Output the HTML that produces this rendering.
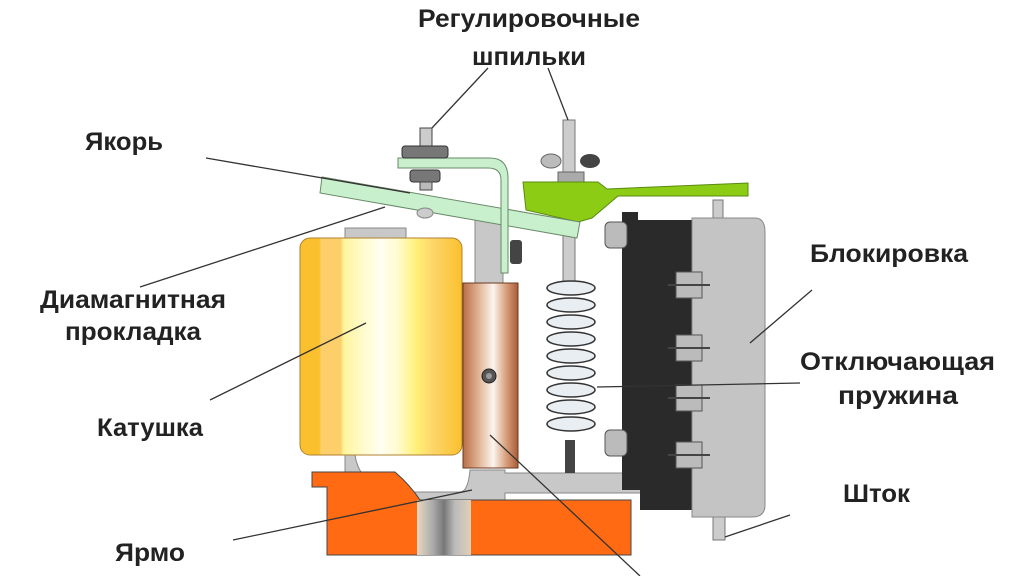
<!DOCTYPE html>
<html><head><meta charset="utf-8"><style>
html,body{margin:0;padding:0;background:#fff;width:1024px;height:576px;overflow:hidden}
svg{display:block}
text{font-family:"Liberation Sans",sans-serif;font-weight:bold;fill:#222;font-size:25px}
</style></head><body>
<svg width="1024" height="576" viewBox="0 0 1024 576">
<defs>
<linearGradient id="coil" x1="0" x2="1">
<stop offset="0" stop-color="#fbc02d"/><stop offset="0.12" stop-color="#fbc02d"/>
<stop offset="0.13" stop-color="#fdcf6a"/><stop offset="0.25" stop-color="#fdcf6a"/>
<stop offset="0.27" stop-color="#fff59d"/><stop offset="0.4" stop-color="#fffbd0"/>
<stop offset="0.5" stop-color="#fffef2"/><stop offset="0.6" stop-color="#fffbd0"/>
<stop offset="0.72" stop-color="#fff176"/><stop offset="0.82" stop-color="#fdd56a"/>
<stop offset="1" stop-color="#fbc02d"/></linearGradient>
<linearGradient id="cu" x1="0" x2="1">
<stop offset="0" stop-color="#b86e45"/><stop offset="0.3" stop-color="#e2b89a"/>
<stop offset="0.55" stop-color="#fbf4ee"/><stop offset="0.8" stop-color="#d59a75"/>
<stop offset="1" stop-color="#a85d38"/></linearGradient>
<linearGradient id="slab" x1="0" x2="1">
<stop offset="0" stop-color="#e8d8c0"/><stop offset="0.3" stop-color="#aaa"/>
<stop offset="0.5" stop-color="#777"/><stop offset="0.7" stop-color="#bbb"/>
<stop offset="1" stop-color="#e0d0b8"/></linearGradient>
</defs>

<!-- yoke gray -->
<rect x="475" y="215" width="28" height="75" fill="#c8c8c8" stroke="#888"/>
<path d="M345 455 L355 455 Q360 492 412 492 L460 492 Q468 492 470 470 L505 470 L505 473 L636 473 L636 458 L642 458 L642 493 L505 493 L505 500 L345 500 Z" fill="#c8c8c8" stroke="#888"/>

<!-- base orange -->
<path d="M312 472 L395 472 Q410 485 420 500 L631 500 L631 555 L327 555 L327 487 L312 487 Z" fill="#ff6a13" stroke="#444"/>
<rect x="417" y="500" width="54" height="55" fill="url(#slab)"/>

<!-- coil -->
<rect x="345" y="228" width="61" height="12" fill="#c8c8c8" stroke="#888"/>
<rect x="300" y="238" width="162" height="217" rx="10" fill="url(#coil)" stroke="#b08030"/>

<!-- copper -->
<rect x="463" y="283" width="55" height="185" fill="url(#cu)" stroke="#6a3a20"/>
<circle cx="489" cy="376" r="7" fill="#555" stroke="#222"/><circle cx="489" cy="376" r="3" fill="#999"/>

<!-- black & gray blocks -->
<rect x="713" y="200" width="10" height="20" fill="#ccc" stroke="#777"/>
<rect x="713" y="515" width="12" height="25" fill="#ccc" stroke="#777"/>
<path d="M622 212 L638 212 L638 220 L692 220 L692 510 L640 510 L640 490 L622 490 Z" fill="#2a2a2a"/>
<path d="M692 218 L755 218 Q765 218 765 232 L765 505 Q765 517 752 517 L692 517 Z" fill="#c4c4c4" stroke="#888"/>
<g fill="#bbb" stroke="#555">
<rect x="605" y="222" width="22" height="26" rx="5"/><rect x="605" y="430" width="22" height="26" rx="5"/>
<rect x="676" y="272" width="26" height="26"/><rect x="676" y="335" width="26" height="26"/>
<rect x="676" y="385" width="26" height="26"/><rect x="676" y="442" width="26" height="26"/>
</g>
<g stroke="#444" stroke-width="2"><line x1="668" y1="285" x2="710" y2="285"/><line x1="668" y1="348" x2="710" y2="348"/><line x1="668" y1="398" x2="710" y2="398"/><line x1="668" y1="455" x2="710" y2="455"/></g>

<!-- spring rod and spring -->
<rect x="563" y="120" width="12" height="170" fill="#ccc" stroke="#777"/>
<rect x="565" y="440" width="10" height="33" fill="#444"/>
<g fill="#e8eef2" stroke="#333" stroke-width="1.5">
<ellipse cx="571" cy="288" rx="24" ry="7"/><ellipse cx="571" cy="305" rx="24" ry="7"/>
<ellipse cx="571" cy="322" rx="24" ry="7"/><ellipse cx="571" cy="339" rx="24" ry="7"/>
<ellipse cx="571" cy="356" rx="24" ry="7"/><ellipse cx="571" cy="373" rx="24" ry="7"/>
<ellipse cx="571" cy="390" rx="24" ry="7"/><ellipse cx="571" cy="407" rx="24" ry="7"/>
<ellipse cx="571" cy="424" rx="24" ry="7"/>
</g>
<!-- wing nut -->
<ellipse cx="551" cy="161" rx="10" ry="7" fill="#bbb" stroke="#666"/>
<ellipse cx="590" cy="161" rx="10" ry="7" fill="#444"/>
<rect x="558" y="172" width="26" height="10" fill="#aaa" stroke="#666"/>

<!-- bright green piece -->
<path d="M523 182 L598 182 L607 189 L748 183 L748 196 L618 196 L592 218 L578 222 L526 210 Z" fill="#8ccc14" stroke="#5a8a10"/>

<!-- armature light green -->
<path d="M322 177 L320 193 L577 238 L580 222 Z" fill="#c8f0cc" stroke="#6a8a6a"/>
<!-- bracket -->
<path d="M398 158 L490 158 Q508 158 508 178 L508 273 L501 273 L501 180 Q501 168 488 168 L398 168 Z" fill="#c8f0cc" stroke="#6a8a6a"/>
<rect x="510" y="240" width="12" height="24" fill="#444" rx="3"/>
<!-- bolt top-left -->
<rect x="420" y="128" width="12" height="20" fill="#ccc" stroke="#444"/>
<rect x="402" y="146" width="46" height="12" rx="3" fill="#777" stroke="#333"/>
<rect x="410" y="170" width="30" height="12" rx="3" fill="#777" stroke="#333"/>
<rect x="420" y="182" width="12" height="8" fill="#bbb" stroke="#444"/>
<ellipse cx="425" cy="213" rx="8" ry="5" fill="#ccc" stroke="#888"/>

<!-- leader lines -->
<g stroke="#333" stroke-width="1.3" fill="none">
<line x1="206" y1="158" x2="410" y2="193"/>
<line x1="140" y1="287" x2="385" y2="207"/>
<line x1="210" y1="400" x2="366" y2="323"/>
<line x1="233" y1="540" x2="472" y2="490"/>
<line x1="490" y1="435" x2="640" y2="576"/>
<line x1="597" y1="387" x2="800" y2="383"/>
<line x1="750" y1="343" x2="812" y2="290"/>
<line x1="725" y1="537" x2="790" y2="515"/>
<line x1="488" y1="68" x2="432" y2="128"/>
<line x1="548" y1="68" x2="568" y2="120"/>
</g>

<!-- labels -->
<text x="418" y="27" textLength="222" lengthAdjust="spacingAndGlyphs">Регулировочные</text>
<text x="472" y="65" textLength="114" lengthAdjust="spacingAndGlyphs">шпильки</text>
<text x="85" y="150" textLength="78" lengthAdjust="spacingAndGlyphs">Якорь</text>
<text x="40" y="308" textLength="186" lengthAdjust="spacingAndGlyphs">Диамагнитная</text>
<text x="65" y="340" textLength="136" lengthAdjust="spacingAndGlyphs">прокладка</text>
<text x="97" y="436" textLength="106" lengthAdjust="spacingAndGlyphs">Катушка</text>
<text x="115" y="561" textLength="70" lengthAdjust="spacingAndGlyphs">Ярмо</text>
<text x="810" y="262" textLength="158" lengthAdjust="spacingAndGlyphs">Блокировка</text>
<text x="800" y="370" textLength="195" lengthAdjust="spacingAndGlyphs">Отключающая</text>
<text x="838" y="404" textLength="120" lengthAdjust="spacingAndGlyphs">пружина</text>
<text x="843" y="502" textLength="67" lengthAdjust="spacingAndGlyphs">Шток</text>
</svg>
</body></html>
